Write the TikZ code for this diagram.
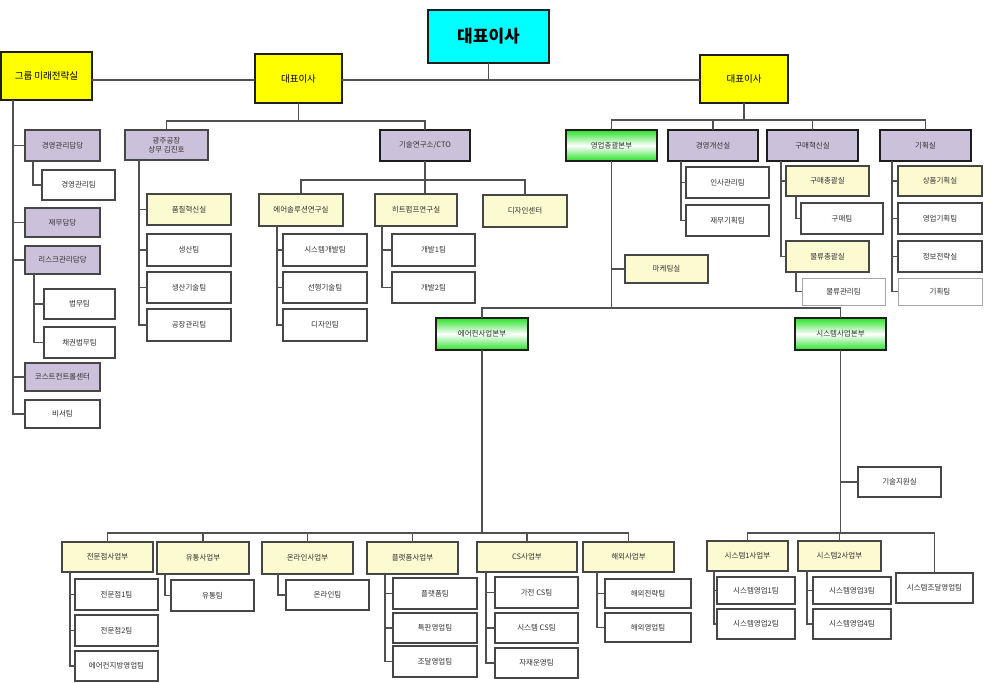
\documentclass[tikz,border=0pt]{standalone}
\usepackage{fontspec}
\newfontfamily\kr{Noto Sans CJK KR}
\definecolor{cyanbox}{RGB}{0,255,255}
\definecolor{yelbox}{RGB}{255,255,0}
\definecolor{purbox}{RGB}{204,193,218}
\definecolor{lybox}{RGB}{252,250,208}
\definecolor{grbox}{RGB}{40,225,40}
\definecolor{edge}{RGB}{70,70,70}
\definecolor{darkedge}{RGB}{30,30,30}
\definecolor{conn}{RGB}{80,80,80}
\definecolor{txt}{RGB}{50,50,50}
\newcommand{\orgbox}[7]{\node[#1, minimum width={(#5-#3)*1pt}, minimum height={(#6-#4)*1pt}] (#2) at ({(#3+#5)/2},{(#4+#6)/2}) {#7};}
\begin{document}
\begin{tikzpicture}[x=1pt,y=-1pt,
  base/.style={inner sep=0pt, outer sep=0pt, align=center, text=txt, font=\kr\fontsize{7.5}{9}\selectfont},
  topbox/.style={base, text=black, fill=cyanbox, draw=darkedge, line width=2.2pt, font=\kr\bfseries\fontsize{17}{20}\selectfont},
  ybox/.style={base, text=black, fill=yelbox, draw=darkedge, line width=2.2pt, font=\kr\fontsize{9.5}{11}\selectfont},
  pbox/.style={base, fill=purbox, draw=edge, line width=1.6pt},
  pboxt/.style={base, fill=purbox, draw=darkedge, line width=2.4pt},
  gbox/.style={base, top color=grbox, bottom color=grbox, middle color=white, draw=darkedge, line width=2.4pt},
  lbox/.style={base, fill=lybox, draw=edge, line width=1.4pt},
  wbox/.style={base, fill=white, draw=edge, line width=1.4pt},
  wlbox/.style={base, fill=white, draw=gray!70, line width=0.9pt},
  cn/.style={draw=conn, line width=1.6pt}
]
\useasboundingbox (0,0) rectangle (984,682);

% top level
\orgbox{topbox}{ceo}{428}{10}{549}{63}{대표이사}
\orgbox{ybox}{strat}{1}{52}{92}{100}{그룹 미래전략실}
\orgbox{ybox}{ceoL}{255}{54}{342}{103}{대표이사}
\orgbox{ybox}{ceoR}{700}{55}{788}{103}{대표이사}

% left column
\orgbox{pbox}{g1}{25}{130}{100}{161}{경영관리담당}
\orgbox{wbox}{g1a}{42}{170}{115}{200}{경영관리팀}
\orgbox{pbox}{g2}{25}{208}{100}{237}{재무담당}
\orgbox{pbox}{g3}{25}{246}{100}{274}{리스크관리담당}
\orgbox{wbox}{g3a}{44}{289}{115}{319}{법무팀}
\orgbox{wbox}{g3b}{44}{327}{115}{358}{채권법무팀}
\orgbox{pbox}{g4}{25}{363}{100}{391}{코스트컨트롤센터}
\orgbox{wbox}{g5}{25}{400}{100}{428}{비서팀}

% left CEO children
\orgbox{pbox}{gj}{125}{130}{208}{160}{광주공장\\상무 김진호}
\orgbox{pboxt}{cto}{380}{130}{470}{161}{기술연구소/CTO}
\orgbox{lbox}{gj1}{147}{194}{231}{225}{품질혁신실}
\orgbox{wbox}{gj2}{147}{234}{231}{266}{생산팀}
\orgbox{wbox}{gj3}{147}{272}{231}{303}{생산기술팀}
\orgbox{wbox}{gj4}{147}{309}{231}{341}{공장관리팀}
\orgbox{lbox}{c1}{259}{194}{343}{226}{에어솔루션연구실}
\orgbox{lbox}{c2}{375}{194}{457}{226}{히트펌프연구실}
\orgbox{lbox}{c3}{483}{195}{567}{227}{디자인센터}
\orgbox{wbox}{c1a}{283}{234}{367}{266}{시스템개발팀}
\orgbox{wbox}{c1b}{283}{272}{367}{303}{선행기술팀}
\orgbox{wbox}{c1c}{283}{309}{367}{341}{디자인팀}
\orgbox{wbox}{c2a}{392}{234}{475}{266}{개발1팀}
\orgbox{wbox}{c2b}{392}{272}{475}{303}{개발2팀}

% right CEO children
\orgbox{gbox}{sales}{566}{130}{657}{161}{영업총괄본부}
\orgbox{pboxt}{mi}{668}{130}{758}{161}{경영개선실}
\orgbox{pboxt}{pu}{767}{130}{858}{161}{구매혁신실}
\orgbox{pboxt}{pl}{880}{130}{971}{161}{기획실}
\orgbox{wbox}{mi1}{686}{167}{769}{198}{인사관리팀}
\orgbox{wbox}{mi2}{686}{205}{769}{236}{재무기획팀}
\orgbox{lbox}{pu1}{786}{166}{869}{196}{구매총괄실}
\orgbox{wbox}{pu1a}{801}{203}{883}{234}{구매팀}
\orgbox{lbox}{pu2}{786}{241}{869}{272}{물류총괄실}
\orgbox{wlbox}{pu2a}{802}{278}{885}{305}{물류관리팀}
\orgbox{lbox}{pl1}{898}{166}{982}{196}{상품기획실}
\orgbox{wbox}{pl2}{898}{203}{982}{234}{영업기획팀}
\orgbox{wbox}{pl3}{898}{241}{982}{272}{정보전략실}
\orgbox{wlbox}{pl4}{898}{278}{982}{305}{기획팀}
\orgbox{lbox}{mk}{625}{255}{708}{283}{마케팅실}

% business divisions
\orgbox{gbox}{ac}{436}{318}{528}{350}{에어컨사업본부}
\orgbox{gbox}{sy}{795}{318}{886}{350}{시스템사업본부}
\orgbox{wbox}{ts}{858}{467}{941}{497}{기술지원실}

% bottom row
\orgbox{lbox}{b1}{62}{542}{153}{572}{전문점사업부}
\orgbox{lbox}{b2}{157}{542}{249}{574}{유통사업부}
\orgbox{lbox}{b3}{262}{542}{353}{574}{온라인사업부}
\orgbox{lbox}{b4}{367}{542}{458}{574}{플랫폼사업부}
\orgbox{lbox}{b5}{477}{542}{577}{572}{CS사업부}
\orgbox{lbox}{b6}{583}{542}{674}{572}{해외사업부}
\orgbox{wbox}{b1a}{75}{579}{158}{610}{전문점1팀}
\orgbox{wbox}{b1b}{75}{615}{158}{646}{전문점2팀}
\orgbox{wbox}{b1c}{75}{651}{158}{681}{에어컨지방영업팀}
\orgbox{wbox}{b2a}{171}{580}{254}{611}{유통팀}
\orgbox{wbox}{b3a}{286}{580}{369}{610}{온라인팀}
\orgbox{wbox}{b4a}{393}{578}{477}{609}{플랫폼팀}
\orgbox{wbox}{b4b}{393}{613}{477}{643}{특판영업팀}
\orgbox{wbox}{b4c}{393}{646}{477}{677}{조달영업팀}
\orgbox{wbox}{b5a}{495}{577}{578}{608}{가전 CS팀}
\orgbox{wbox}{b5b}{495}{613}{578}{643}{시스템 CS팀}
\orgbox{wbox}{b5c}{495}{648}{578}{678}{자재운영팀}
\orgbox{wbox}{b6a}{605}{579}{691}{608}{해외전략팀}
\orgbox{wbox}{b6b}{605}{613}{691}{642}{해외영업팀}
\orgbox{lbox}{s1}{707}{541}{788}{571}{시스템1사업부}
\orgbox{lbox}{s2}{798}{541}{881}{571}{시스템2사업부}
\orgbox{wbox}{s3}{896}{573}{973}{603}{시스템조달영업팀}
\orgbox{wbox}{s1a}{717}{577}{795}{604}{시스템영업1팀}
\orgbox{wbox}{s1b}{717}{609}{795}{639}{시스템영업2팀}
\orgbox{wbox}{s2a}{813}{577}{891}{604}{시스템영업3팀}
\orgbox{wbox}{s2b}{813}{609}{891}{639}{시스템영업4팀}

% bus coordinates
\coordinate (yTop) at (0,80);
\coordinate (xg) at (13,0);
\coordinate (xg1) at (33,0);
\coordinate (xg3) at (34,0);
\coordinate (yL) at (0,121);
\coordinate (xgj) at (139,0);
\coordinate (yC) at (0,180);
\coordinate (xc1) at (277,0);
\coordinate (xc2) at (382,0);
\coordinate (yR) at (0,120);
\coordinate (xmi) at (681,0);
\coordinate (xpu) at (781,0);
\coordinate (xpu1) at (796,0);
\coordinate (xpl) at (892,0);
\coordinate (yM) at (0,308);
\coordinate (yB) at (0,533);
\coordinate (xb1) at (70,0);
\coordinate (xb2) at (165,0);
\coordinate (xb3) at (278,0);
\coordinate (xb4) at (385,0);
\coordinate (xb5) at (486,0);
\coordinate (xb6) at (597,0);
\coordinate (xs1) at (714,0);
\coordinate (xs2) at (807,0);

% top connections
\draw[cn] (ceo.south) -- (ceo.south |- yTop);
\draw[cn] (strat.east |- yTop) -- (ceoL.west |- yTop);
\draw[cn] (ceoL.east |- yTop) -- (ceoR.west |- yTop);

% left column
\foreach \c in {g1,g2,g3,g4,g5} \draw[cn] (strat.south -| xg) |- (\c.west);
\draw[cn] (g1.south -| xg1) |- (g1a.west);
\draw[cn] (g3.south -| xg3) |- (g3a.west);
\draw[cn] (g3.south -| xg3) |- (g3b.west);

% left CEO
\draw[cn] (ceoL.south) -- (ceoL.south |- yL);
\draw[cn] (ceoL.south |- yL) -| (gj.north);
\draw[cn] (ceoL.south |- yL) -| (cto.north);
\foreach \c in {gj1,gj2,gj3,gj4} \draw[cn] (gj.south -| xgj) |- (\c.west);
\draw[cn] (cto.south) -- (cto.south |- c2.north);
\draw[cn] (cto.south |- yC) -| (c1.north);
\draw[cn] (cto.south |- yC) -| (c3.north);
\foreach \c in {c1a,c1b,c1c} \draw[cn] (c1.south -| xc1) |- (\c.west);
\foreach \c in {c2a,c2b} \draw[cn] (c2.south -| xc2) |- (\c.west);

% right CEO
\draw[cn] (ceoR.south) -- (ceoR.south |- yR);
\foreach \c in {sales,mi,pu,pl} \draw[cn] (ceoR.south |- yR) -| (\c.north);
\foreach \c in {mi1,mi2} \draw[cn] (mi.south -| xmi) |- (\c.west);
\foreach \c in {pu1,pu2} \draw[cn] (pu.south -| xpu) |- (\c.west);
\draw[cn] (pu1.south -| xpu1) |- (pu1a.west);
\draw[cn] (pu2.south -| xpu1) |- (pu2a.west);
\foreach \c in {pl1,pl2,pl3,pl4} \draw[cn] (pl.south -| xpl) |- (\c.west);
\draw[cn] (sales.south) |- (mk.west);
\draw[cn] (sales.south) -- (sales.south |- yM);
\draw[cn] (ac.north) -- (ac.north |- yM) -- (sy.north |- yM) -- (sy.north);

% air-con division
\draw[cn] (ac.south) -- (ac.south |- yB);
\foreach \c in {b1,b2,b3,b4,b5,b6} \draw[cn] (ac.south |- yB) -| (\c.north);
\foreach \c in {b1a,b1b,b1c} \draw[cn] (b1.south -| xb1) |- (\c.west);
\draw[cn] (b2.south -| xb2) |- (b2a.west);
\draw[cn] (b3.south -| xb3) |- (b3a.west);
\foreach \c in {b4a,b4b,b4c} \draw[cn] (b4.south -| xb4) |- (\c.west);
\foreach \c in {b5a,b5b,b5c} \draw[cn] (b5.south -| xb5) |- (\c.west);
\foreach \c in {b6a,b6b} \draw[cn] (b6.south -| xb6) |- (\c.west);

% system division
\draw[cn] (sy.south) |- (ts.west);
\draw[cn] (sy.south) -- (sy.south |- yB);
\foreach \c in {s1,s2,s3} \draw[cn] (sy.south |- yB) -| (\c.north);
\foreach \c in {s1a,s1b} \draw[cn] (s1.south -| xs1) |- (\c.west);
\foreach \c in {s2a,s2b} \draw[cn] (s2.south -| xs2) |- (\c.west);
\end{tikzpicture}
\end{document}
